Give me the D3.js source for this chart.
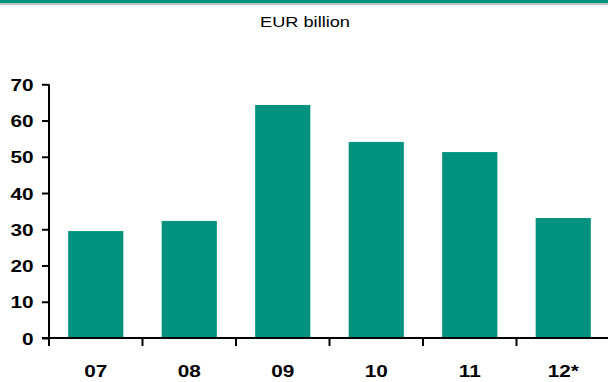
<!DOCTYPE html>
<html><head><meta charset="utf-8">
<script src="https://cdn.jsdelivr.net/npm/d3@7"></script>
<style>html,body{margin:0;padding:0;background:#fff;}svg{display:block;}</style>
</head><body>
<script>
const categories = ["07","08","09","10","11","12*"];
const values = [29.5, 32.3, 64.3, 54.1, 51.3, 33.1];
const yTicks = [0,10,20,30,40,50,60,70];
const unitLabel = "EUR billion";

const W = 608, H = 382;
const SX = 1.26;
const FONT = "Liberation Sans, Arial, sans-serif";
const svg = d3.select("body").append("svg").attr("width", W).attr("height", H);

svg.append("rect").attr("x",0).attr("y",0).attr("width",W).attr("height",3).attr("fill","#00917f");
svg.append("rect").attr("x",0).attr("y",3).attr("width",W).attr("height",2).attr("fill","#c3c3c3");

svg.append("text").attr("transform",`translate(305,27) scale(1.3,1)`).attr("text-anchor","middle")
  .attr("font-family",FONT).attr("font-size",14).attr("fill","#000")
  .text(unitLabel);

const x = d3.scaleBand().domain(categories).range([49, 610]).paddingInner(0.41).paddingOuter(0.205);
const y = d3.scaleLinear().domain([0,70]).range([338, 84.3]);

svg.append("g").selectAll("rect").data(values).join("rect")
  .attr("x",(d,i)=>x(categories[i])).attr("width",x.bandwidth())
  .attr("y",d=>y(d)).attr("height",d=>y(0)-y(d)).attr("fill","#00917f");

// y axis
const ya = svg.append("g").attr("transform","translate(49,0)")
  .call(d3.axisLeft(y).tickValues(yTicks).tickSize(7).tickPadding(7).tickFormat(d3.format("d")));
ya.select(".domain").attr("stroke","#000").attr("stroke-width",2).attr("d","M0,84.3V338");
ya.selectAll(".tick line").attr("stroke","#000").attr("stroke-width",2);
ya.selectAll("text").attr("x",0).attr("dy",null).attr("transform",`translate(-15.5,6) scale(${SX},1)`)
  .attr("font-family",FONT).attr("font-size",16.5)
  .attr("font-weight","bold").attr("fill","#000");

// x axis
const band = x.step();
const xa = svg.append("g").attr("transform","translate(0,338)");
xa.append("line").attr("x1",42).attr("x2",608).attr("y1",0).attr("y2",0).attr("stroke","#000").attr("stroke-width",2);
xa.selectAll("line.tk").data(categories).join("line").attr("class","tk")
  .attr("x1",c=>x(c)-(band-x.bandwidth())/2).attr("x2",c=>x(c)-(band-x.bandwidth())/2)
  .attr("y1",0).attr("y2",8).attr("stroke","#000").attr("stroke-width",2);
xa.selectAll("text").data(categories).join("text")
  .attr("transform",c=>`translate(${x(c)+x.bandwidth()/2},39) scale(${SX},1)`).attr("text-anchor","middle")
  .attr("font-family",FONT).attr("font-size",16.5).attr("font-weight","bold")
  .text(c=>c);
</script>
</body></html>
